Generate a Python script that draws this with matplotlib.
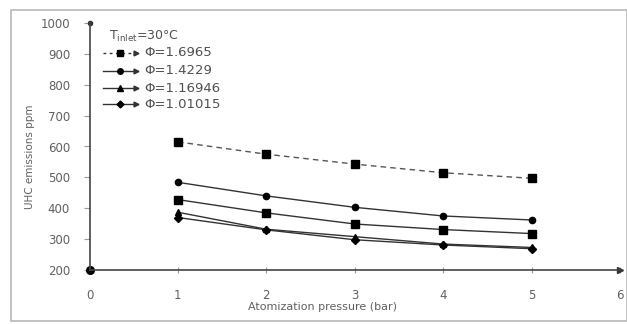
import matplotlib
matplotlib.use("Agg")
import matplotlib.pyplot as plt
from matplotlib.lines import Line2D
from matplotlib.patches import Rectangle

plt.rcParams['font.family'] = ['DejaVu Sans']

pressure = [1, 2, 3, 4, 5]
phi_16965 = [615, 575, 543, 515, 497]
phi_14229 = [484, 440, 403, 375, 362]
phi_extra = [428, 385, 349, 331, 318]
phi_116946 = [387, 332, 308, 284, 273]
phi_101015 = [370, 330, 298, 281, 269]

legend_labels = ["Φ=1.6965", "Φ=1.4229", "Φ=1.16946", "Φ=1.01015"]
x_ticks = [0, 1, 2, 3, 4, 5, 6]
y_ticks = [200, 300, 400, 500, 600, 700, 800, 900, 1000]

W, H = 627, 324
fig = plt.figure(figsize=(W / 100, H / 100), dpi=100)
fig.patch.set_facecolor('white')

# chart border
fig.patches.append(Rectangle((11 / W, 1 - 321 / H), (W - 11) / W, (321 - 10) / H,
                             transform=fig.transFigure, fill=False,
                             edgecolor='#b8b8b8', linewidth=1.2))

ax = fig.add_axes([89.5 / W, 1 - 270 / H, (620 - 89.5) / W, (270 - 23) / H])
ax.set_xlim(0, 6)
ax.set_ylim(200, 1000)

ax.plot(pressure, phi_16965, linestyle=(0, (4, 3)), color='#555555', lw=1.0,
        marker='s', ms=5.5, mfc='black', mec='black')
ax.plot(pressure, phi_14229, '-', color='#333333', lw=1.0,
        marker='o', ms=4.5, mfc='black', mec='black')
ax.plot(pressure, phi_extra, '-', color='#333333', lw=1.0,
        marker='s', ms=5.5, mfc='black', mec='black')
ax.plot(pressure, phi_116946, '-', color='#333333', lw=1.0,
        marker='^', ms=5, mfc='black', mec='black')
ax.plot(pressure, phi_101015, '-', color='#333333', lw=1.0,
        marker='D', ms=3.8, mfc='black', mec='black')

for s in ['top', 'right']:
    ax.spines[s].set_visible(False)
for s in ['left', 'bottom']:
    ax.spines[s].set_color('#444444')
    ax.spines[s].set_linewidth(1.2)

# axis decorations (arrow/dots)
ax.plot([0], [0], 'o', ms=5.5, color='black', transform=ax.transAxes, clip_on=False)
ax.plot([0], [1], 'o', ms=3, color='#333333', transform=ax.transAxes, clip_on=False)
ax.plot([1], [0], '>', ms=4, color='#333333', transform=ax.transAxes, clip_on=False)

ax.set_xticks(x_ticks)
ax.set_yticks(y_ticks)
ax.tick_params(axis='both', width=0.8, color='#999999', labelsize=8.5, labelcolor='#606060')
ax.tick_params(axis='x', direction='inout', length=5, pad=11)
ax.tick_params(axis='y', direction='out', length=4, pad=10)

fig.text(322 / W, 1 - 307 / H, "Atomization pressure (bar)", fontsize=8,
         color='#606060', ha='center', va='center')
fig.text(30 / W, 1 - 157 / H, "UHC emissions ppm", fontsize=7.5, rotation=90,
         color='#606060', ha='center', va='center')

# custom legend
fig.text(109 / W, 1 - 36 / H, r"T$_{\mathregular{inlet}}$=30°C", fontsize=9,
         color='#505050', va='center', ha='left')
styles = [((0, (2, 2.5)), 's', 5), ('-', 'o', 4), ('-', '^', 4.5), ('-', 'D', 3.5)]
rows = [53, 71, 88, 104]
for (ls, mk, ms), lab, yr in zip(styles, legend_labels, rows):
    yf = 1 - yr / H
    fig.add_artist(Line2D([103 / W, 137 / W], [yf, yf], transform=fig.transFigure,
                          linestyle=ls, color='#333333', lw=1.0))
    fig.add_artist(Line2D([120 / W], [yf], transform=fig.transFigure, marker=mk,
                          ms=ms, color='black', linestyle='none'))
    fig.add_artist(Line2D([136 / W], [yf], transform=fig.transFigure, marker='>',
                          ms=3.5, color='#333333', linestyle='none'))
    fig.text(144 / W, yf, lab, fontsize=9.5, color='#505050', va='center', ha='left')

fig.savefig("out.png", dpi=100, facecolor='white')
